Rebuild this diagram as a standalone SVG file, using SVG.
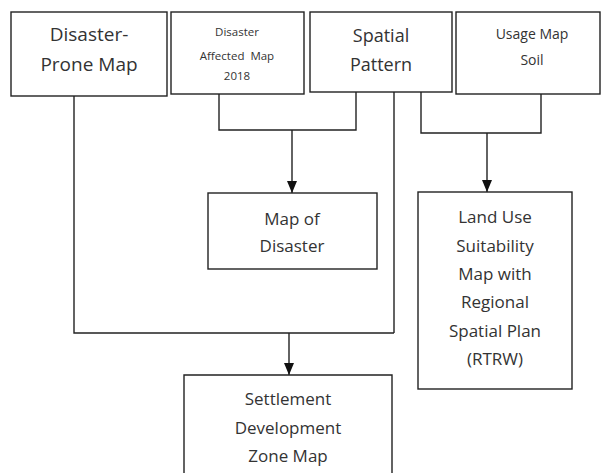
<svg xmlns="http://www.w3.org/2000/svg" width="601" height="473" viewBox="0 0 601 473">
<style>
.box{fill:#fff;stroke:#222;stroke-width:1.4}
.ln{fill:none;stroke:#222;stroke-width:1.4}
.arr{fill:none;stroke:#222;stroke-width:1.4;marker-end:url(#ah)}
.t{font-family:"Open Sans","Noto Sans",sans-serif;fill:#333;text-anchor:middle}
</style>
<defs>
<marker id="ah" markerWidth="12" markerHeight="10" refX="12" refY="5" orient="auto" markerUnits="userSpaceOnUse" viewBox="0 0 12 10">
<path d="M0,0 L12,5 L0,10 Z" fill="#111"/>
</marker>
</defs>
<rect width="601" height="473" fill="#fff"/>
<g id="connectors">
<path class="ln" d="M74,96 V333 H394 M394,92 V333"/>
<path class="arr" d="M289,333 V375"/>
<path class="ln" d="M219,94 V130 H356 V92"/>
<path class="arr" d="M292,130 V193"/>
<path class="ln" d="M421,92 V133 H541 V94"/>
<path class="arr" d="M487,133 V192"/>
</g>
<g id="n1">
<rect class="box" x="11" y="12" width="156" height="84"/>
<text class="t" font-size="19" x="89" y="41">Disaster-</text>
<text class="t" font-size="19" x="89" y="71">Prone Map</text>
</g>
<g id="n2">
<rect class="box" x="171" y="12" width="133" height="82"/>
<text class="t" font-size="11.5" x="237" y="36">Disaster</text>
<text class="t" font-size="11.5" x="237" y="60" xml:space="preserve">Affected  Map</text>
<text class="t" font-size="11.5" x="237" y="80">2018</text>
</g>
<g id="n3">
<rect class="box" x="310" y="12" width="142" height="80"/>
<text class="t" font-size="18" x="381" y="42">Spatial</text>
<text class="t" font-size="18" x="381" y="71">Pattern</text>
</g>
<g id="n4">
<rect class="box" x="456" y="12" width="144" height="82"/>
<text class="t" font-size="14" x="532" y="39">Usage Map</text>
<text class="t" font-size="14" x="532" y="65">Soil</text>
</g>
<g id="n5">
<rect class="box" x="208" y="193" width="169" height="76"/>
<text class="t" font-size="17" x="292" y="225">Map of</text>
<text class="t" font-size="17" x="292" y="252">Disaster</text>
</g>
<g id="n6">
<rect class="box" x="418" y="192" width="154" height="197"/>
<text class="t" font-size="17" x="495" y="223">Land Use</text>
<text class="t" font-size="17" x="495" y="252">Suitability</text>
<text class="t" font-size="17" x="495" y="280">Map with</text>
<text class="t" font-size="17" x="495" y="308">Regional</text>
<text class="t" font-size="17" x="495" y="337">Spatial Plan</text>
<text class="t" font-size="17" x="495" y="365">(RTRW)</text>
</g>
<g id="n7">
<path class="box" d="M184,474 V375 H392 V474"/>
<text class="t" font-size="17" x="288" y="405">Settlement</text>
<text class="t" font-size="17" x="288" y="434">Development</text>
<text class="t" font-size="17" x="288" y="462">Zone Map</text>
</g>
</svg>
